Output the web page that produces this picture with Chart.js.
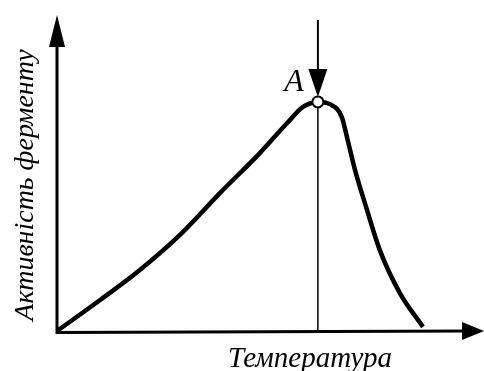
<!DOCTYPE html>
<html>
<head>
<meta charset="utf-8">
<script src="https://cdn.jsdelivr.net/npm/chart.js@4"></script>
<style>
  html, body { margin: 0; padding: 0; background: #fff; }
  #wrap { width: 484px; height: 371px; position: relative; }
</style>
</head>
<body>
<div id="wrap"><canvas id="c" width="484" height="371"></canvas></div>
<script>
// Enzyme activity versus temperature (relative units)
const temperature = [0, 10.1, 19.4, 28.8, 38.2, 47.5, 53.9, 57.6, 61.1, 63.9, 66.7, 67.9, 69.8, 72.6, 75.6, 80.3, 85.7];
const activity    = [0, 9.8, 19.3, 30.4, 43.7, 56.3, 65.8, 70.9, 72.5, 71.8, 67.7, 61.4, 50.9, 38.3, 25.6, 12.0, 1.3];

// Optimum point A
const optimumT = [61.1];
const optimumA = [72.5];

const xTitle = 'Температура';
const yTitle = 'Активність ферменту';
const pointLabel = 'A';

const curve = temperature.map((t, i) => ({ x: t, y: activity[i] }));
const optimum = optimumT.map((t, i) => ({ x: t, y: optimumA[i] }));
const dropLine = [{ x: optimumT[0], y: 0 }, { x: optimumT[0], y: optimumA[0] }];

function arrowHead(ctx, tipX, tipY, dirX, dirY, len, half) {
  const bx = tipX - dirX * len, by = tipY - dirY * len;
  const px = -dirY, py = dirX;
  ctx.beginPath();
  ctx.moveTo(tipX, tipY);
  ctx.lineTo(bx + px * half, by + py * half);
  ctx.lineTo(bx - px * half, by - py * half);
  ctx.closePath();
  ctx.fill();
}

const axesPlugin = {
  id: 'arrowAxes',
  afterDatasetsDraw(chart) {
    const { ctx, chartArea: a, scales } = chart;
    ctx.save();
    ctx.strokeStyle = '#000';
    ctx.fillStyle = '#000';
    ctx.lineCap = 'butt';
    // axes with arrowheads
    ctx.lineWidth = 3;
    ctx.beginPath();
    ctx.moveTo(a.left, a.top + 20);
    ctx.lineTo(a.left, a.bottom + 1.5);
    ctx.lineTo(a.right - 15, a.bottom);
    ctx.stroke();
    arrowHead(ctx, a.left, a.top, 0, -1, 32, 8);
    arrowHead(ctx, a.right, a.bottom, 1, 0, 22, 9);

    // pointer arrow above point A
    const px = scales.x.getPixelForValue(optimumT[0]);
    const py = scales.y.getPixelForValue(optimumA[0]);
    ctx.lineWidth = 2;
    ctx.beginPath();
    ctx.moveTo(px, a.top + 5);
    ctx.lineTo(px, py - 30);
    ctx.stroke();
    arrowHead(ctx, px, py - 5, 0, 1, 28, 9.5);

    // label A
    ctx.font = 'italic 32px "Liberation Serif", serif';
    ctx.textAlign = 'right';
    ctx.textBaseline = 'alphabetic';
    ctx.fillText(pointLabel, px - 14, py - 11);

    // axis titles
    ctx.textAlign = 'center';
    ctx.font = 'italic 29px "Liberation Serif", serif';
    ctx.fillText(xTitle, 310, 367);
    ctx.font = 'italic 28px "Liberation Serif", serif';
    ctx.save();
    ctx.translate(33, 185);
    ctx.rotate(-Math.PI / 2);
    ctx.fillText(yTitle, 0, 0);
    ctx.restore();
    ctx.restore();
  }
};

new Chart(document.getElementById('c'), {
  type: 'line',
  data: {
    datasets: [
      {
        data: optimum,
        showLine: false,
        pointRadius: 5.5,
        pointBorderWidth: 2,
        pointBackgroundColor: '#fff',
        pointBorderColor: '#000',
        order: 0
      },
      {
        data: curve,
        borderColor: '#000',
        borderWidth: 4.5,
        pointRadius: 0,
        cubicInterpolationMode: 'monotone',
        fill: false,
        clip: false,
        order: 1
      },
      {
        data: dropLine,
        borderColor: '#000',
        borderWidth: 1.5,
        pointRadius: 0,
        fill: false,
        order: 2
      }
    ]
  },
  options: {
    responsive: false,
    animation: false,
    layout: { autoPadding: false, padding: { left: 57, right: 0, top: 15, bottom: 40 } },
    plugins: { legend: { display: false }, tooltip: { enabled: false } },
    scales: {
      x: { type: 'linear', min: 0, max: 100, display: false },
      y: { type: 'linear', min: 0, max: 100, display: false }
    }
  },
  plugins: [axesPlugin]
});
</script>
</body>
</html>
